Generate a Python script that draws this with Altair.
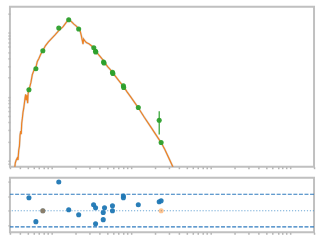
import altair as alt
import pandas as pd

# ---- model curve (orange) ----
line_t = [0.340, 0.350, 0.360, 0.371, 0.379, 0.387, 0.395, 0.402, 0.410, 0.416,
          0.422, 0.430, 0.438, 0.447, 0.456, 0.464, 0.473, 0.481, 0.490, 0.501,
          0.508, 0.520, 0.535, 0.551, 0.574, 0.601, 0.636, 0.663, 0.694, 0.729,
          0.778, 0.841, 0.910, 1.0, 1.10, 1.234, 1.40, 1.54, 1.645, 1.778,
          1.91, 2.05, 2.195, 2.30, 2.37, 2.44, 2.49, 2.53, 2.61, 2.74,
          2.99, 3.32, 3.65, 3.98, 4.43, 4.73, 5.11, 5.46, 5.91, 6.31,
          6.82, 7.39, 8.11, 8.91, 10.0, 11.06, 12.34, 14.66, 17.78, 20.5,
          23.9, 26.6, 29.9, 33.2, 35.5]
line_f = [0.675, 0.931, 1.036, 1.113, 1.036, 1.48, 1.71, 2.53, 2.92, 2.62,
          3.88, 4.64, 5.75, 6.63, 7.93, 9.48, 10.93, 8.83, 10.55, 7.93,
          11.33, 13.07, 14.55, 16.78, 22.3, 25.8, 28.6, 35.5, 39.5, 45.6,
          52.6, 62.9, 71.2, 80.7, 91.5, 107.4, 123.9, 145.4, 161.9, 148.2,
          135.5, 126.2, 115.3, 103.7, 89.8, 75.2, 66.3, 79.3, 75.2, 70.0,
          66.3, 59.6, 50.7, 44.0, 37.5, 33.1, 29.2, 26.7, 23.6, 21.2,
          18.7, 16.5, 14.3, 11.96, 9.82, 8.22, 6.75, 4.81, 3.37, 2.58,
          1.94, 1.51, 1.11, 0.837, 0.675]

# ---- observations (green) ----
obs_t = [0.520, 0.636, 0.778, 1.234, 1.645, 2.195, 3.40, 3.58, 3.60, 4.51,
         4.58, 5.84, 5.91, 8.01, 8.08, 12.34, 22.6, 23.9]
obs_f = [12.9, 27.4, 52.0, 118.3, 159.0, 114.0, 57.9, 51.3, 49.9, 34.9,
         33.7, 24.0, 23.1, 14.8, 14.0, 6.80, 4.32, 1.95]
obs_lo = [12.9, 27.4, 52.0, 118.3, 159.0, 114.0, 57.9, 51.3, 49.9, 34.9,
          33.7, 24.0, 23.1, 14.8, 14.0, 6.80, 2.59, 1.95]
obs_hi = [12.9, 27.4, 52.0, 118.3, 159.0, 114.0, 57.9, 51.3, 49.9, 34.9,
          33.7, 24.0, 23.1, 14.8, 14.0, 6.80, 5.96, 1.95]

# ---- residuals ----
res_t = [0.520, 0.636, 0.778, 1.234, 1.645, 2.195, 3.38, 3.58, 3.58, 4.47,
         4.47, 4.64, 5.84, 5.84, 8.01, 8.01, 12.34, 22.6, 23.9]
res_v = [0.90, -0.76, 0.0, 2.0, 0.07, -0.28, 0.41, 0.21, -0.90, -0.12,
         -0.62, 0.21, 0.34, 0.0, 1.03, 0.90, 0.41, 0.62, 0.69]
res2_t = [0.778, 23.9]
res2_v = [0.0, 0.0]
band_lo = -1.12
band_hi = 1.14

x_ticks = [0.3, 0.4, 0.5, 0.6, 0.7, 0.8, 0.9, 1, 2, 3, 4, 5, 6, 7, 8, 9,
           10, 20, 30, 40, 50, 60, 70, 80, 90, 100, 200, 300, 400, 500, 600,
           700, 800, 900, 1000, 2000]
y_ticks = [0.9, 1, 2, 3, 4, 5, 6, 7, 8, 9, 10, 20, 30, 40, 50, 60, 70, 80,
           90, 100, 200]
r_ticks = [-1, 0, 1, 2]

W = 306
TICK = "#b5b5b5"

def xaxis():
    return alt.Axis(values=x_ticks, labels=False, title=None, domain=False,
                    grid=False, tickSize=2, tickColor=TICK, tickWidth=1.5)

xs = alt.Scale(type="log", domain=[0.3, 2000], nice=False)
ys = alt.Scale(type="log", domain=[0.816, 253], nice=False)
yaxis = alt.Axis(values=y_ticks, labels=False, title=None, domain=False,
                 grid=False, tickSize=2, tickColor=TICK, tickWidth=1.5)

line_df = pd.DataFrame({"t": line_t, "f": line_f})
obs_df = pd.DataFrame({"t": obs_t, "f": obs_f, "lo": obs_lo, "hi": obs_hi})

shadow = alt.Chart(line_df).mark_line(clip=True, color="#9a9a9a", strokeWidth=2.2,
                                      opacity=0.35).encode(
    x=alt.X("t:Q", scale=xs, axis=xaxis()),
    y=alt.Y("f:Q", scale=ys, axis=yaxis),
    order="t:Q")
model = alt.Chart(line_df).mark_line(clip=True, color="#ee8122", strokeWidth=1.2).encode(
    x=alt.X("t:Q", scale=xs, axis=xaxis()),
    y=alt.Y("f:Q", scale=ys, axis=yaxis),
    order="t:Q")
err = alt.Chart(obs_df).mark_rule(clip=True, color="#2ca02c", strokeWidth=1.2).encode(
    x=alt.X("t:Q", scale=xs, axis=xaxis()),
    y=alt.Y("lo:Q", scale=ys, axis=yaxis),
    y2="hi:Q")
pts = alt.Chart(obs_df).mark_circle(clip=True, color="#2ca02c", size=26, opacity=0.95).encode(
    x=alt.X("t:Q", scale=xs, axis=xaxis()),
    y=alt.Y("f:Q", scale=ys, axis=yaxis))

top = alt.layer(shadow, model, err, pts).properties(width=W, height=161)

rs = alt.Scale(domain=[-1.5, 2.3], nice=False, zero=False)
raxis = alt.Axis(values=r_ticks, labels=False, title=None, domain=False,
                 grid=False, tickSize=2, tickColor=TICK, tickWidth=1.5)
res_df = pd.DataFrame({"t": res_t, "r": res_v})
res2_df = pd.DataFrame({"t": res2_t, "r": res2_v})
lines_df = pd.DataFrame({"r": [band_lo, band_hi]})
zero_df = pd.DataFrame({"r": [0.0]})

dashed = alt.Chart(lines_df).mark_rule(color="#2f7bbf", strokeWidth=1.1,
                                        strokeDash=[4, 1.6]).encode(
    y=alt.Y("r:Q", scale=rs, axis=raxis))
dotted = alt.Chart(zero_df).mark_rule(color="#4a92cc", strokeWidth=1.1, opacity=0.8,
                                       strokeDash=[1.2, 1.8]).encode(
    y=alt.Y("r:Q", scale=rs, axis=raxis))
rpts = alt.Chart(res_df).mark_circle(color="#1f77b4", size=26, opacity=0.95).encode(
    x=alt.X("t:Q", scale=xs, axis=xaxis()),
    y=alt.Y("r:Q", scale=rs, axis=raxis))
rpts2 = alt.Chart(res2_df).mark_circle(color="#ff7f0e", size=26, opacity=0.45).encode(
    x=alt.X("t:Q", scale=xs, axis=xaxis()),
    y=alt.Y("r:Q", scale=rs, axis=raxis))

bottom = alt.layer(dashed, dotted, rpts, rpts2).properties(width=W, height=55)

chart = alt.vconcat(top, bottom, spacing=6).properties(
    padding={"left": 6, "top": 5, "right": 4, "bottom": 4},
    background="white",
).configure_view(stroke="#c0c0c0", strokeWidth=2)

chart.save("out.html", embed_options={"renderer": "svg", "actions": False})
